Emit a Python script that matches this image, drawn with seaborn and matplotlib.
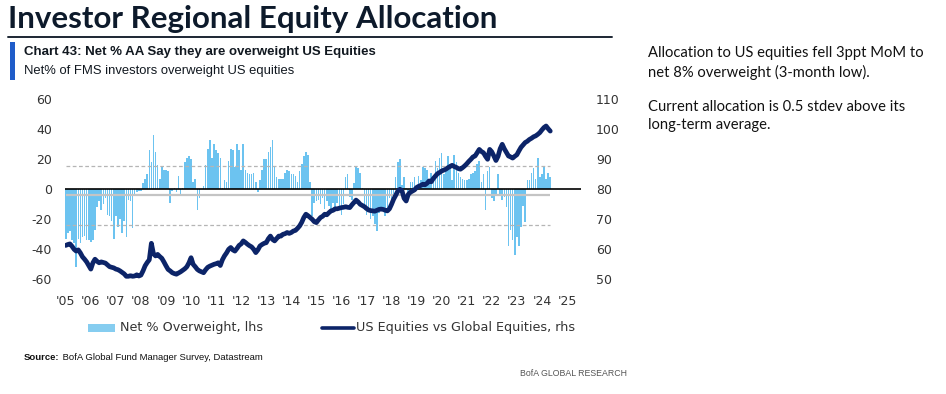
import numpy as np
import pandas as pd
import matplotlib
matplotlib.use("Agg")
import matplotlib.pyplot as plt
import seaborn as sns
from matplotlib import font_manager
from matplotlib.patches import Rectangle
from matplotlib.lines import Line2D

# ---------------- data ----------------
START_MONTH = "2005-01"

NET_OW_2005_2009 = [
    -33, -29, -28, -34, -36, -52, -33, -36, -32, -31, -34, -34,
    -35, -34, -27, -12, -8, -14, -10, -6, -17, -18, -21, -33,
    -18, -25, -20, -29, -21, -32, -7, -8, -26, -3, -2, -1,
    -1, 4, 7, 10, 26, 18, 36, 25, 16, 7, 15, 13,
    13, 12, -9, -1, 1, -2, 9, -4, 1, 18, 21, 22,
]
NET_OW_2010_2014 = [
    20, 5, 7, -14, -6, 0, 2, 16, 27, 33, 21, 30,
    26, 24, 21, 1, 6, 5, 19, 27, 26, 15, 30, 26,
    13, 30, 13, 11, 10, 10, 11, 5, -2, 6, 13, 20,
    20, 25, 28, 33, 15, 8, 7, 7, 7, 11, 13, 12,
    10, 10, 9, 5, 12, 17, 22, 25, 23, 5, -18, -9,
]
NET_OW_2015_2019 = [
    -8, -7, -10, -6, -13, -8, -11, -15, -9, -13, -9, -11,
    -17, -10, 8, 10, -5, -7, 4, 15, 14, 11, 1, -14,
    -17, -15, -20, -18, -23, -28, -16, -12, -12, -18, -15, -6,
    -8, -5, 8, 18, 20, 3, 8, 1, -2, 5, 5, 8,
    3, 9, 6, 15, 14, 13, 7, 11, 6, 19, 14, 21,
]
NET_OW_2020_2024 = [
    24, 10, 13, 22, 17, 6, 23, 18, 11, 8, 7, 6,
    6, 7, 10, 11, 12, 17, 19, 5, 10, -14, 12, 15,
    -6, -8, -3, 10, -4, -7, -5, -12, -38, -27, -34, -44,
    -32, -38, -25, -11, -22, 6, 6, 11, 14, 7, 21, 8,
    10, 15, 7, 11, 8,
]

US_VS_GLOBAL_2005_2009 = [
    61.3, 61.6, 61.8, 61.0, 60.0, 59.4, 59.8, 58.8, 57.5, 56.7, 55.8, 54.6,
    53.4, 55.5, 56.7, 56.0, 55.5, 55.8, 55.6, 55.4, 54.8, 54.2, 54.0, 53.8,
    53.4, 53.2, 52.8, 52.3, 51.8, 51.0, 51.0, 51.2, 51.0, 51.1, 51.5, 51.1,
    51.4, 52.8, 54.5, 55.6, 56.5, 62.0, 58.5, 57.8, 58.3, 57.6, 57.0, 55.8,
    54.5, 53.3, 52.8, 52.2, 51.9, 51.7, 52.1, 52.5, 53.0, 53.5, 54.2, 55.5,
]
US_VS_GLOBAL_2010_2014 = [
    57.2, 55.0, 54.2, 53.3, 52.8, 52.5, 52.2, 53.2, 54.0, 54.4, 54.7, 55.0,
    55.2, 55.5, 54.6, 56.5, 57.8, 58.8, 60.0, 60.6, 59.8, 59.4, 60.3, 61.3,
    61.8, 62.8, 62.3, 61.7, 61.2, 60.8, 60.0, 58.9, 59.8, 61.1, 61.6, 62.0,
    62.2, 63.5, 64.4, 63.3, 62.8, 63.6, 64.4, 64.4, 65.0, 65.2, 65.6, 65.3,
    65.6, 66.1, 66.3, 67.0, 67.8, 69.0, 70.6, 71.7, 71.2, 70.6, 70.0, 69.2,
]
US_VS_GLOBAL_2015_2019 = [
    68.9, 69.8, 70.6, 71.0, 71.7, 71.5, 72.2, 72.8, 73.0, 73.5, 73.5, 73.7,
    73.9, 74.0, 74.2, 74.0, 73.9, 74.8, 75.6, 76.4, 75.8, 75.0, 74.6, 74.2,
    73.6, 73.1, 72.9, 72.8, 72.7, 73.0, 73.3, 73.4, 73.3, 73.0, 72.8, 73.5,
    75.0, 76.7, 78.0, 79.4, 80.0, 79.5, 77.0, 76.1, 78.3, 79.0, 79.4, 79.8,
    80.6, 81.0, 81.3, 81.7, 81.5, 82.0, 82.8, 82.5, 83.6, 84.4, 85.2, 85.6,
]
US_VS_GLOBAL_2020_2024 = [
    86.1, 86.4, 86.7, 87.2, 87.6, 88.0, 87.6, 87.3, 86.9, 86.7, 87.2, 87.8,
    88.5, 89.3, 90.0, 90.8, 91.1, 92.2, 93.3, 92.6, 92.2, 91.0, 90.0, 93.3,
    92.5, 91.1, 89.6, 91.0, 93.5, 95.0, 93.5, 92.3, 91.1, 90.8, 90.4, 91.0,
    91.5, 92.8, 94.0, 94.8, 95.6, 96.0, 96.6, 97.0, 97.5, 97.8, 98.3, 98.9,
    99.8, 100.6, 101.1, 100.2, 99.4,
]

LONG_TERM_AVG = -4.0      # solid grey line
ONE_STDEV = 19.7          # dashed lines at avg +/- 1 stdev

YEAR_TICKS = list(range(2005, 2026))
YEAR_LABELS = ["'05", "'06", "'07", "'08", "'09", "'10", "'11", "'12", "'13", "'14",
               "'15", "'16", "'17", "'18", "'19", "'20", "'21", "'22", "'23", "'24", "'25"]
LEFT_TICKS = [-60, -40, -20, 0, 20, 40, 60]
RIGHT_TICKS = [50, 60, 70, 80, 90, 100, 110]

TITLE = "Investor Regional Equity Allocation"
CHART_TITLE = "Chart 43: Net % AA Say they are overweight US Equities"
CHART_SUB = "Net% of FMS investors overweight US equities"
LEG_BAR = "Net % Overweight, lhs"
LEG_LINE = "US Equities vs Global Equities, rhs"
NOTE_1 = "Allocation to US equities fell 3ppt MoM to\nnet 8% overweight (3-month low)."
NOTE_2 = "Current allocation is 0.5 stdev above its\nlong-term average."
SOURCE_BOLD = "Source:"
SOURCE_REST = " BofA Global Fund Manager Survey, Datastream"
FOOTER = "BofA GLOBAL RESEARCH"

# ---------------- styling ----------------
BAR_COLOR = "#6cc3f0"
LEGEND_BAR_COLOR = "#86cdf0"
NAVY = "#0c2468"
TEXT_DARK = "#111820"
TICK_COLOR = "#333333"

net = NET_OW_2005_2009 + NET_OW_2010_2014 + NET_OW_2015_2019 + NET_OW_2020_2024
rel = US_VS_GLOBAL_2005_2009 + US_VS_GLOBAL_2010_2014 + US_VS_GLOBAL_2015_2019 + US_VS_GLOBAL_2020_2024
dates = pd.date_range(START_MONTH, periods=len(net), freq="MS")
df = pd.DataFrame({
    "x": dates.year + (dates.month - 1) / 12.0,
    "net": net,
    "rel": rel,
})

sns.set_theme(style="white")
plt.rcParams["font.family"] = ["DejaVu Sans"]

names = {f.name for f in font_manager.fontManager.ttflist}
NARROW = "Liberation Sans Narrow" if "Liberation Sans Narrow" in names else "Liberation Sans"
NOTE_FONT = "Lato" if "Lato" in names else "DejaVu Sans"

W, H = 946, 394
fig = plt.figure(figsize=(W / 100, H / 100), dpi=100)

def fx(px):
    return px / W

def fy(py):
    return 1 - py / H

ax_left, ax_right, ax_top, ax_bot = 65, 581, 94.8, 283.8
ax = fig.add_axes([fx(ax_left), fy(ax_bot), (ax_right - ax_left) / W, (ax_bot - ax_top) / H])

# bars
ax.bar(df["x"], df["net"], width=0.062, color=BAR_COLOR, edgecolor="none", linewidth=0,
       antialiased=True, zorder=2)
# reference lines
ax.hlines(LONG_TERM_AVG, df["x"].min(), df["x"].max(), colors="#c4c4c4", linewidth=1.6, zorder=2.5)
ax.hlines([LONG_TERM_AVG + ONE_STDEV, LONG_TERM_AVG - ONE_STDEV], df["x"].min(), df["x"].max(),
          colors="#b5b5b5", linestyles=(0, (3, 2)), linewidth=0.9, zorder=2.6)
ax.axhline(0, color="black", linewidth=1.2, zorder=3)

ax.set_xlim(2004.97, 2025.56)
ax.set_ylim(-63, 63)
ax.set_xticks(YEAR_TICKS)
ax.set_xticklabels(YEAR_LABELS)
ax.set_yticks(LEFT_TICKS)
ax.set_yticklabels([str(v) for v in LEFT_TICKS])
ax.tick_params(axis="y", length=0, pad=9.5, labelsize=9, labelcolor=TICK_COLOR)
ax.tick_params(axis="x", length=0, pad=8, labelsize=9, labelcolor=TICK_COLOR)
ax.set_xlabel("")
ax.set_ylabel("")
for s in ax.spines.values():
    s.set_visible(False)
ax.grid(False)

ax2 = ax.twinx()
sns.lineplot(data=df, x="x", y="rel", ax=ax2, color=NAVY, linewidth=3.4, zorder=5)
ax2.set_ylim(80 - 31.5, 80 + 31.5)
ax2.set_yticks(RIGHT_TICKS)
ax2.set_yticklabels([str(v) for v in RIGHT_TICKS])
ax2.tick_params(axis="y", length=0, pad=10.8, labelsize=9, labelcolor=TICK_COLOR)
ax2.set_xlabel("")
ax2.set_ylabel("")
ax2.set_xlim(2004.97, 2025.56)
for s in ax2.spines.values():
    s.set_visible(False)
ax2.grid(False)

# ---------------- header ----------------
fig.text(fx(8), fy(19), TITLE, fontsize=22.5, fontweight="bold", family=[NOTE_FONT, "DejaVu Sans"],
         color="#0d1a2b", va="center", ha="left")
fig.add_artist(Line2D([fx(8), fx(612)], [fy(37), fy(37)], color="#1c2633", linewidth=1.4))
fig.add_artist(Rectangle((fx(10), fy(80)), 4.5 / W, 38 / H, facecolor="#1f5cc9", edgecolor="none"))
fig.text(fx(24), fy(52), CHART_TITLE, fontsize=9.5, fontweight="bold", family=[NARROW, "DejaVu Sans"],
         color=TEXT_DARK, va="center", ha="left")
fig.text(fx(24), fy(71), CHART_SUB, fontsize=9.4, family=[NARROW, "DejaVu Sans"],
         color=TEXT_DARK, va="center", ha="left")

# ---------------- right notes ----------------
fig.text(fx(648), fy(63), NOTE_1, fontsize=10.6, family=[NOTE_FONT, "DejaVu Sans"], color="#111111",
         va="center", ha="left", linespacing=1.45)
fig.text(fx(648), fy(116), NOTE_2, fontsize=10.6, family=[NOTE_FONT, "DejaVu Sans"], color="#111111",
         va="center", ha="left", linespacing=1.45)

# ---------------- legend ----------------
LEG_Y = 328
fig.add_artist(Rectangle((fx(88), fy(LEG_Y + 4)), 27 / W, 8 / H, facecolor=LEGEND_BAR_COLOR, edgecolor="none"))
fig.text(fx(120), fy(LEG_Y), LEG_BAR, fontsize=9.2, color=TICK_COLOR, va="center", ha="left")
fig.add_artist(Line2D([fx(322), fx(354)], [fy(LEG_Y), fy(LEG_Y)], color=NAVY, linewidth=2.6))
fig.text(fx(356), fy(LEG_Y), LEG_LINE, fontsize=9.2, color=TICK_COLOR, va="center", ha="left")

# ---------------- source / footer ----------------
t_src = fig.text(fx(24), fy(357), SOURCE_BOLD, fontsize=6.8, fontweight="bold",
                 family=[NARROW, "DejaVu Sans"], color="#111111", va="center", ha="left")
fig.canvas.draw()
bb = t_src.get_window_extent(renderer=fig.canvas.get_renderer())
fig.text(bb.x1 / W, fy(357), SOURCE_REST, fontsize=6.8, family=[NARROW, "DejaVu Sans"],
         color="#111111", va="center", ha="left")
fig.text(fx(627), fy(374), FOOTER, fontsize=6.3, family=[NARROW, "DejaVu Sans"],
         color="#555555", va="center", ha="right")

fig.savefig("out.png", dpi=100)
